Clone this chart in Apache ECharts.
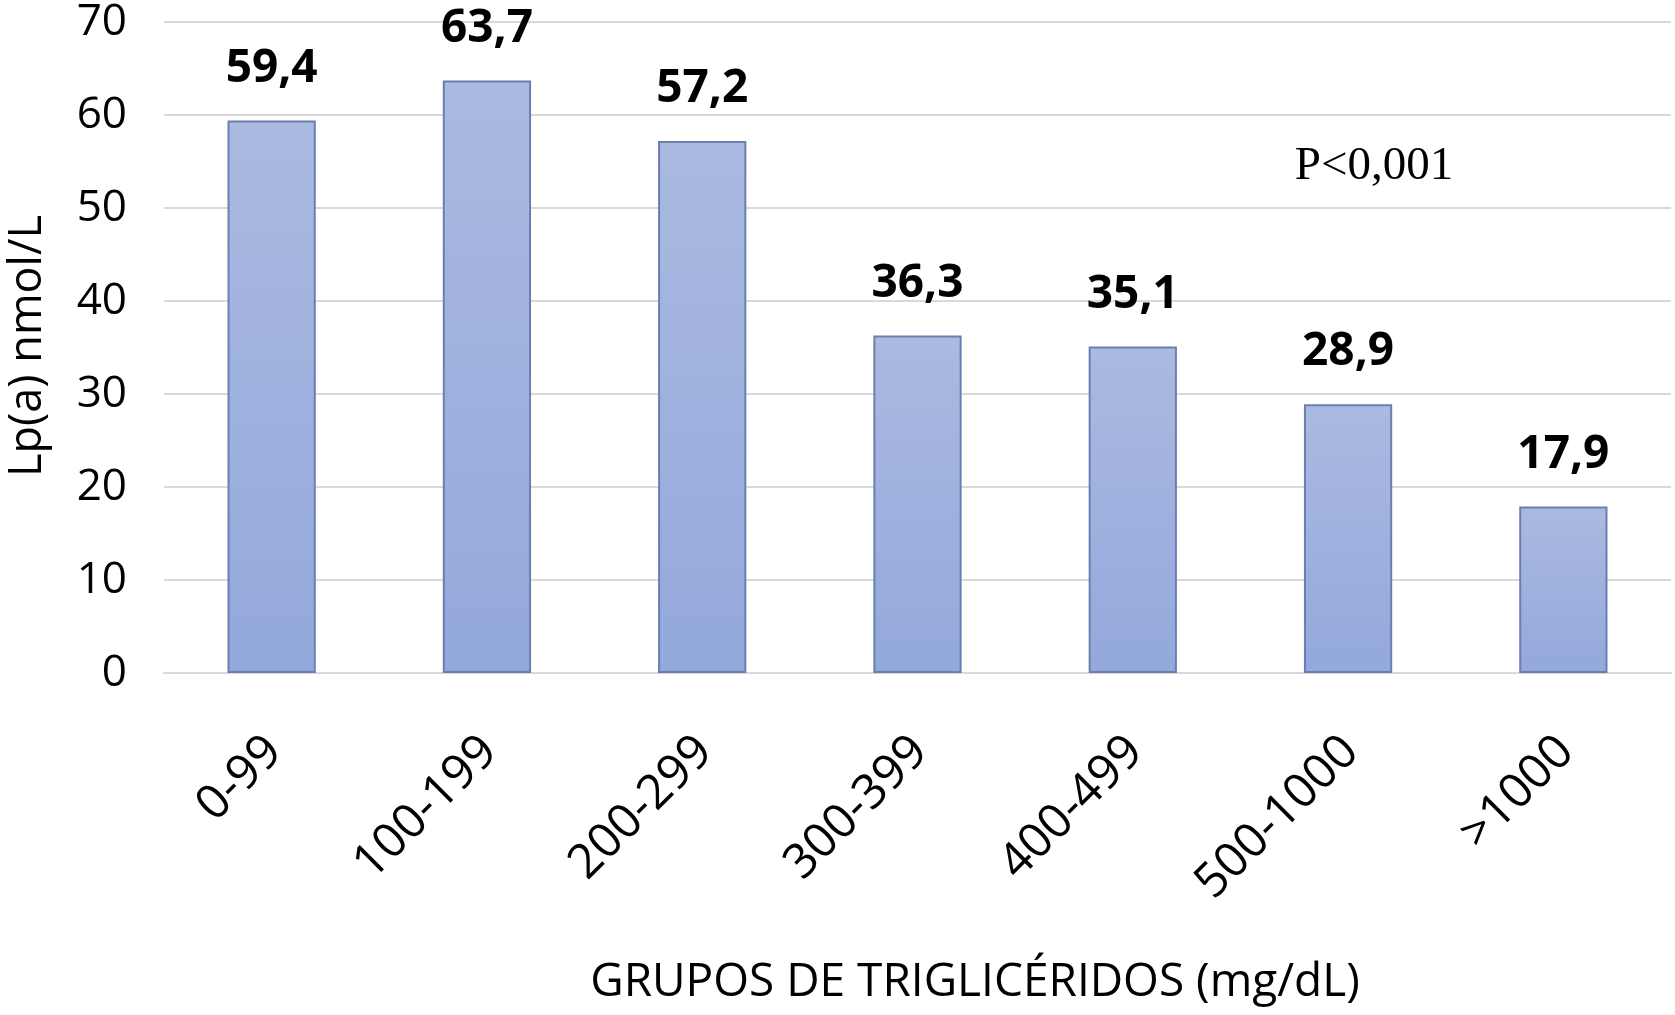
<!DOCTYPE html>
<html>
<head>
<meta charset="utf-8">
<script src="https://cdn.jsdelivr.net/npm/echarts@6/dist/echarts.min.js"></script>
<style>
html,body{margin:0;padding:0;background:#fff;}
#chart{width:1675px;height:1015px;}
</style>
</head>
<body>
<div id="chart"></div>
<script>
const categories = ['0-99', '100-199', '200-299', '300-399', '400-499', '500-1000', '>1000'];
const values = [59.4, 63.7, 57.2, 36.3, 35.1, 28.9, 17.9];
const yTicks = { min: 0, max: 70, interval: 10 };
const yTitle = 'Lp(a) nmol/L';
const xTitle = 'GRUPOS DE TRIGLICÉRIDOS (mg/dL)';
const pText = 'P<0,001';

const chart = echarts.init(document.getElementById('chart'));
const font = 'Open Sans';
chart.setOption({
  animation: false,
  backgroundColor: '#ffffff',
  grid: { left: 164, right: 4, top: 22, bottom: 342, containLabel: false },
  xAxis: {
    type: 'category',
    data: categories,
    axisLine: { show: true, lineStyle: { color: '#D9D9D9', width: 2 } },
    axisTick: { show: false },
    axisLabel: {
      rotate: 45,
      margin: 50,
      align: 'right',
      verticalAlign: 'top',
      lineHeight: 34,
      padding: [0, 13, 0, 0],
      interval: 0,
      fontFamily: font,
      fontSize: 48,
      color: '#000'
    }
  },
  yAxis: {
    type: 'value',
    min: yTicks.min,
    max: yTicks.max,
    interval: yTicks.interval,
    axisLine: { show: false },
    axisTick: { show: false },
    splitLine: { lineStyle: { color: '#D9D9D9', width: 2 } },
    axisLabel: { margin: 37, fontFamily: font, fontSize: 44, color: '#000' }
  },
  series: [{
    type: 'bar',
    data: values,
    barWidth: '41%',
    itemStyle: {
      color: new echarts.graphic.LinearGradient(0, 0, 0, 1, [
        { offset: 0, color: '#AABAE0' },
        { offset: 1, color: '#93A8DC' }
      ]),
      borderColor: '#6A7FAF',
      borderWidth: 2
    },
    label: {
      show: true,
      position: 'top',
      distance: 29,
      fontFamily: font,
      fontWeight: 'bold',
      fontSize: 46,
      color: '#000',
      formatter: p => String(p.value).replace('.', ',')
    }
  }],
  graphic: [
    {
      type: 'text',
      x: 28, y: 346,
      rotation: Math.PI / 2,
      style: { text: yTitle, fontFamily: font, fontSize: 45, fill: '#000', align: 'center', verticalAlign: 'middle' }
    },
    {
      type: 'text',
      x: 975, y: 983,
      style: { text: xTitle, fontFamily: font, fontSize: 46, fill: '#000', align: 'center', verticalAlign: 'middle' }
    },
    {
      type: 'text',
      x: 1374, y: 167,
      style: { text: pText, fontFamily: 'Liberation Serif', fontSize: 47, fill: '#000', align: 'center', verticalAlign: 'middle' }
    }
  ]
});
</script>
</body>
</html>
